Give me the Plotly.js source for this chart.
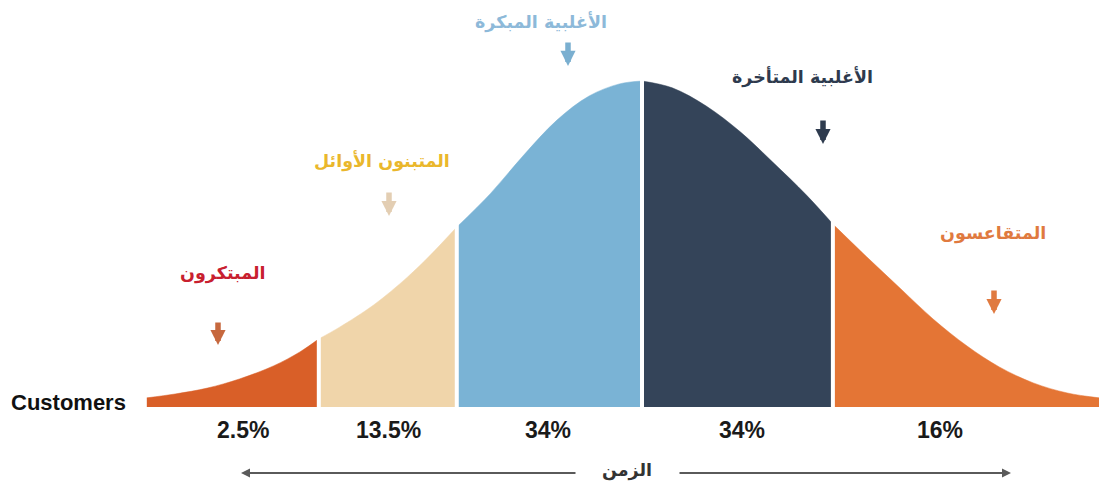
<!DOCTYPE html>
<html lang="ar">
<head>
  <meta charset="UTF-8" />
  <title>Diffusion of innovations</title>
  <script src="https://cdn.plot.ly/plotly-3.0.1.min.js"></script>
  <style>
    html, body { margin: 0; padding: 0; background: white; }
    #chart { width: 1099px; height: 486px; }
  </style>
</head>
<body>
  <div id="chart"></div>

  <script>
    // --- data ---
    // curve: x in standard deviations from the peak, y in % of peak height
    const curveX = [-2.62, -2.47, -2.30, -2.13, -1.95, -1.81, -1.71, -1.60, -1.42, -1.24, -1.12, -0.98,
                    -0.80, -0.63, -0.45, -0.28, -0.12, 0, 0.16, 0.34, 0.52, 0.69, 0.87, 1.01,
                    1.19, 1.37, 1.54, 1.72, 1.89, 2.07, 2.25, 2.42];
    const curveY = [2.8, 4.0, 5.8, 8.6, 12.6, 16.9, 20.9, 24.5, 31.3, 39.9, 46.6, 55.2,
                    65.6, 77.0, 88.0, 95.4, 99.1, 100, 97.9, 92.3, 84.4, 75.2, 65.0, 56.1,
                    46.0, 36.2, 27.0, 18.7, 12.3, 7.4, 4.3, 2.8];
    const segmentEdges = [-2.62, -1.71, -0.98, 0, 1.01, 2.42];
    const segmentNames = ['المبتكرون', 'المتبنون الأوائل', 'الأغلبية المبكرة', 'الأغلبية المتأخرة', 'المتقاعسون'];
    const segmentShares = ['2.5%', '13.5%', '34%', '34%', '16%'];
    const timeLabel = 'الزمن';
    const yLabel = 'Customers';

    // --- styles ---
    const W = 1099, H = 486;
    const fillColors = ['#D95F28', '#F0D5AA', '#7AB3D5', '#344459', '#E47535'];
    const labelColors = ['#C8202F', '#EAB72C', '#8DB9D9', '#2E3A4E', '#E07A3F'];
    const arrowColors = ['#C6683E', '#E3CEB3', '#7AAFD0', '#2E3B4E', '#E07A40'];
    // pixel layout of the texts and arrows: [x, y] / [x, top, tip]
    const labelPos = [[222, 273], [382, 161], [541, 22], [802, 77], [993, 234]];
    const arrowPos = [[218, 321, 345], [389, 191, 216], [568, 41, 66], [823, 119, 144], [994, 289, 314]];
    const sharePosX = [243, 388, 548, 742, 940];
    const arabicFont = 'DejaVu Sans, sans-serif';
    const latinFont = 'Liberation Sans, Arial, sans-serif';

    const px = x => x / W;
    const py = y => 1 - y / H;

    const traces = [];
    for (let i = 0; i < segmentNames.length; i++) {
      const xs = [], ys = [];
      curveX.forEach((x, k) => {
        if (x >= segmentEdges[i] && x <= segmentEdges[i + 1]) { xs.push(x); ys.push(curveY[k]); }
      });
      traces.push({
        x: xs, y: ys, type: 'scatter', mode: 'lines', name: segmentNames[i],
        line: { shape: 'spline', smoothing: 1, width: 0.5, color: fillColors[i] },
        fill: 'tozeroy', fillcolor: fillColors[i], hoverinfo: 'skip'
      });
    }

    // white gaps between the segments
    segmentEdges.slice(1, -1).forEach(e => {
      const h = curveY[curveX.indexOf(e)];
      traces.push({
        x: [e, e], y: [0, h + 2], type: 'scatter', mode: 'lines',
        line: { color: 'white', width: 4 }, hoverinfo: 'skip'
      });
    });

    const annotations = [];
    segmentNames.forEach((name, i) => {
      annotations.push({
        xref: 'paper', yref: 'paper', x: px(labelPos[i][0]), y: py(labelPos[i][1]),
        text: '<b>' + name + '</b>', showarrow: false, xanchor: 'center', yanchor: 'middle',
        font: { family: arabicFont, size: 17.5, color: labelColors[i] }
      });
      const a = arrowPos[i];
      annotations.push({
        xref: 'paper', yref: 'paper', x: px(a[0]), y: py(a[2]), text: '',
        showarrow: true, axref: 'pixel', ayref: 'pixel', ax: 0, ay: -(a[2] - a[1]),
        arrowhead: 2, arrowsize: 0.55, arrowwidth: 5.5, arrowcolor: arrowColors[i]
      });
      annotations.push({
        xref: 'paper', yref: 'paper', x: px(sharePosX[i]), y: py(430),
        text: '<b>' + segmentShares[i] + '</b>', showarrow: false, xanchor: 'center', yanchor: 'middle',
        font: { family: latinFont, size: 23, color: '#1a1a1a' }
      });
    });

    annotations.push({
      xref: 'paper', yref: 'paper', x: px(128), y: py(402), text: '<b>' + yLabel + '</b>',
      showarrow: false, xanchor: 'right', yanchor: 'middle',
      font: { family: latinFont, size: 22, color: '#111' }
    });
    annotations.push({
      xref: 'paper', yref: 'paper', x: px(627), y: py(470), text: '<b>' + timeLabel + '</b>',
      showarrow: false, xanchor: 'center', yanchor: 'middle',
      font: { family: arabicFont, size: 17.5, color: '#333' }
    });
    // time arrows, left and right of the label
    annotations.push({
      xref: 'paper', yref: 'paper', x: px(241), y: py(473), text: '',
      showarrow: true, axref: 'pixel', ayref: 'pixel', ax: 577 - 241, ay: 0,
      arrowhead: 2, arrowsize: 0.9, arrowwidth: 2, arrowcolor: '#5a5a5a'
    });
    annotations.push({
      xref: 'paper', yref: 'paper', x: px(1011), y: py(473), text: '',
      showarrow: true, axref: 'pixel', ayref: 'pixel', ax: 678 - 1011, ay: 0,
      arrowhead: 2, arrowsize: 0.9, arrowwidth: 2, arrowcolor: '#5a5a5a'
    });

    // axis ranges put the peak at pixel x=642 and the baseline at pixel y=407
    const sigmaPx = 189, peakPx = 642, basePx = 407, peakHeightPx = 326;
    const layout = {
      width: W, height: H,
      margin: { l: 0, r: 0, t: 0, b: 0 },
      paper_bgcolor: 'white', plot_bgcolor: 'white',
      showlegend: false,
      xaxis: { visible: false, range: [(0 - peakPx) / sigmaPx, (W - peakPx) / sigmaPx], fixedrange: true },
      yaxis: { visible: false, range: [(basePx - H) / peakHeightPx * 100, basePx / peakHeightPx * 100], fixedrange: true },
      annotations: annotations
    };

    Plotly.newPlot('chart', traces, layout, { displayModeBar: false, staticPlot: true });
  </script>
</body>
</html>
